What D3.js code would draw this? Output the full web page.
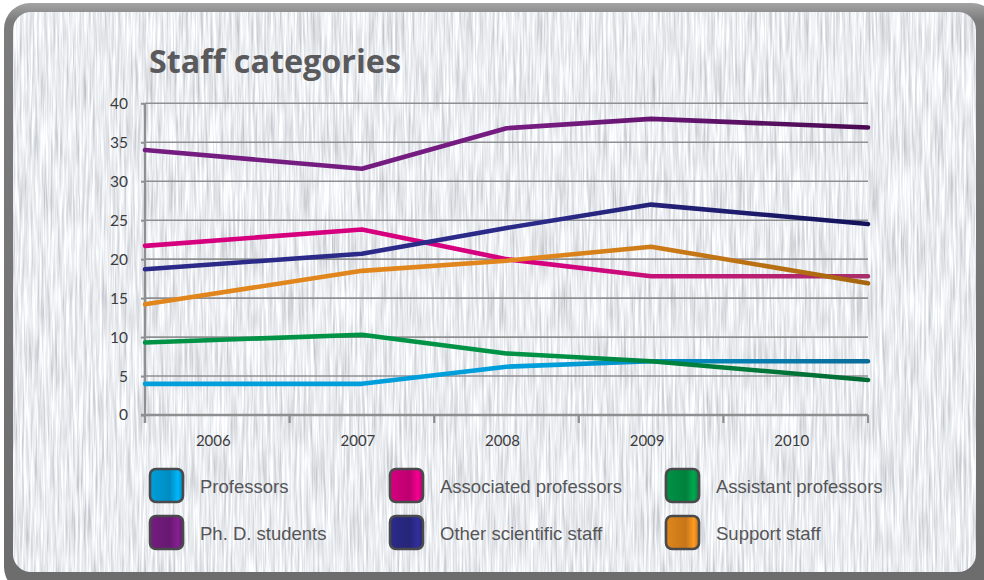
<!DOCTYPE html>
<html>
<head>
<meta charset="utf-8">
<script src="https://cdn.jsdelivr.net/npm/d3@7/dist/d3.min.js"></script>
<style>
  html, body { margin: 0; padding: 0; background: #ffffff; }
  svg { display: block; }
</style>
</head>
<body>
<svg id="chart" width="984" height="580"></svg>
<script>
// Staff numbers per category, 2006–2010
const years = [2006, 2007, 2008, 2009, 2010];
const yTicks = [0, 5, 10, 15, 20, 25, 30, 35, 40];

const professors           = [4.0, 4.0, 6.2, 6.9, 6.9];
const associatedProfessors = [21.7, 23.8, 20.0, 17.8, 17.8];
const assistantProfessors  = [9.3, 10.3, 7.9, 6.9, 4.5];
const phdStudents          = [34.0, 31.6, 36.8, 38.0, 36.9];
const otherScientific      = [18.7, 20.7, 24.0, 27.0, 24.5];
const supportStaff         = [14.2, 18.5, 19.8, 21.6, 16.9];

const seriesNames = ["Professors", "Associated professors", "Assistant professors",
                     "Ph. D. students", "Other scientific staff", "Support staff"];
const seriesColors = ["#009fdb", "#d6007f", "#009245", "#751c80", "#2b2a88", "#e0861c"];
const seriesEndColors = ["#0b6c98", "#a8306a", "#006a33", "#4a0a52", "#14125a", "#a6650e"];

const series = [professors, associatedProfessors, assistantProfessors,
                phdStudents, otherScientific, supportStaff].map((values, i) => ({
  name: seriesNames[i], color: seriesColors[i], endColor: seriesEndColors[i], values
}));

const svg = d3.select("#chart");
const W = 984, H = 580;
const defs = svg.append("defs");

// Brushed-metal panel texture: stretched noise gives fine vertical streaks
const tex = defs.append("filter").attr("id", "brushed")
  .attr("x", 0).attr("y", 0).attr("width", "100%").attr("height", "100%");
tex.append("feTurbulence").attr("type", "fractalNoise")
  .attr("baseFrequency", "0.45 0.018").attr("numOctaves", 3).attr("seed", 7).attr("result", "n");
tex.append("feColorMatrix").attr("in", "n").attr("type", "matrix")
  .attr("values", "0.78 0 0 0 0.43  0.78 0 0 0 0.45  0.78 0 0 0 0.48  0 0 0 0 1");

// Frame
const frameGrad = defs.append("linearGradient").attr("id", "frameGrad")
  .attr("x1", 0).attr("y1", 0).attr("x2", 0).attr("y2", 1);
frameGrad.append("stop").attr("offset", 0).attr("stop-color", "#a4a4a4");
frameGrad.append("stop").attr("offset", 0.03).attr("stop-color", "#7c7c7c");
frameGrad.append("stop").attr("offset", 1).attr("stop-color", "#6c6c6c");

svg.append("rect").attr("x", 4).attr("y", 3).attr("width", W + 10).attr("height", H + 10)
  .attr("rx", 26).attr("fill", "url(#frameGrad)");
const clip = defs.append("clipPath").attr("id", "panelClip");
clip.append("rect").attr("x", 13).attr("y", 12).attr("width", 963).attr("height", 560).attr("rx", 18);
svg.append("rect").attr("x", 13).attr("y", 12).attr("width", 963).attr("height", 560)
  .attr("clip-path", "url(#panelClip)").attr("filter", "url(#brushed)").attr("fill", "#ddd");

// Title
svg.append("text").attr("x", 149).attr("y", 73)
  .attr("font-family", "'Open Sans', 'DejaVu Sans', sans-serif")
  .attr("font-weight", 700).attr("font-size", 32)
  .attr("textLength", 252).attr("lengthAdjust", "spacingAndGlyphs")
  .attr("fill", "#5a5a5c").text("Staff categories");

// Scales
const plotLeft = 145, plotRight = 868, plotTop = 103.3, plotBottom = 415;
const y = d3.scaleLinear().domain([0, 40]).range([plotBottom, plotTop]);
const band = d3.scaleBand().domain(years).range([plotLeft, plotRight]);
// First and last years sit on the plot edges, the others on their band centres
const x = d3.scaleLinear()
  .domain(years)
  .range(years.map((yr, i) => i === 0 ? plotLeft : i === years.length - 1 ? plotRight
                              : band(yr) + band.bandwidth() / 2));

const gridColor = "#8e8f91";
const labelFont = "Lato, 'Open Sans', sans-serif";

// Horizontal gridlines
svg.append("g").selectAll("line").data(yTicks.filter(t => t > 0)).join("line")
  .attr("x1", plotLeft).attr("x2", plotRight).attr("y1", d => y(d)).attr("y2", d => y(d))
  .attr("stroke", gridColor).attr("stroke-width", 1.6);

// Y axis
const yAxis = svg.append("g").attr("transform", `translate(${plotLeft},0)`)
  .call(d3.axisLeft(y).tickValues(yTicks).tickSize(4).tickPadding(13));
yAxis.select(".domain").attr("stroke", gridColor).attr("stroke-width", 2.4)
  .attr("d", `M0,${plotTop}V${plotBottom + 8}`);
yAxis.selectAll(".tick line").attr("stroke", gridColor).attr("stroke-width", 2);
yAxis.selectAll(".tick text").attr("font-family", labelFont).attr("font-weight", 400)
  .attr("font-size", 15.5).attr("fill", "#3c3c3e");

// X axis: ticks on band edges, labels in bands
const xAxisG = svg.append("g").attr("transform", `translate(0,${plotBottom})`);
xAxisG.append("line").attr("x1", plotLeft - 4).attr("x2", plotRight).attr("y1", 0).attr("y2", 0)
  .attr("stroke", gridColor).attr("stroke-width", 2.6);
const edges = years.map(yr => band(yr)).concat([band(years[years.length - 1]) + band.bandwidth()]);
xAxisG.selectAll("line.tk").data(edges).join("line").attr("class", "tk")
  .attr("x1", d => d).attr("x2", d => d).attr("y1", 0).attr("y2", 8)
  .attr("stroke", gridColor).attr("stroke-width", 2.2);
xAxisG.selectAll("text").data(years).join("text")
  .attr("x", d => band(d) + band.bandwidth() / 2 - 4).attr("y", 31)
  .attr("text-anchor", "middle")
  .attr("font-family", labelFont).attr("font-weight", 400).attr("font-size", 15)
  .attr("fill", "#3c3c3e").text(d => d);

// Line gradients (colour deepens towards 2010)
series.forEach((s, i) => {
  const g = defs.append("linearGradient").attr("id", "lg" + i)
    .attr("gradientUnits", "userSpaceOnUse")
    .attr("x1", plotLeft).attr("x2", plotRight).attr("y1", 0).attr("y2", 0);
  g.append("stop").attr("offset", 0).attr("stop-color", s.color);
  g.append("stop").attr("offset", 0.55).attr("stop-color", s.color);
  g.append("stop").attr("offset", 1).attr("stop-color", s.endColor);
});

const line = d3.line().x((d, i) => x(years[i])).y(d => y(d));
svg.append("g").selectAll("path").data(series).join("path")
  .attr("d", d => line(d.values))
  .attr("fill", "none")
  .attr("stroke", (d, i) => `url(#lg${i})`)
  .attr("stroke-width", 4.6)
  .attr("stroke-linecap", "round").attr("stroke-linejoin", "round");

// Legend
series.forEach((s, i) => {
  const g = defs.append("linearGradient").attr("id", "sw" + i)
    .attr("x1", 0).attr("x2", 1).attr("y1", 0).attr("y2", 0);
  const c = d3.color(s.color);
  g.append("stop").attr("offset", 0).attr("stop-color", c.formatHex());
  g.append("stop").attr("offset", 0.6).attr("stop-color", c.darker(0.35).formatHex());
  g.append("stop").attr("offset", 0.85).attr("stop-color", c.brighter(0.4).formatHex());
  g.append("stop").attr("offset", 1).attr("stop-color", c.darker(0.5).formatHex());
});
const legendCols = [150, 390, 666];
const legendRows = [469, 516];
const legend = svg.append("g").selectAll("g").data(series).join("g")
  .attr("transform", (d, i) => `translate(${legendCols[i % 3]},${legendRows[Math.floor(i / 3)]})`);
legend.append("rect").attr("width", 33).attr("height", 33).attr("rx", 6)
  .attr("fill", (d, i) => `url(#sw${i})`)
  .attr("stroke", "#4a4a4c").attr("stroke-width", 2.6);
legend.append("text").attr("x", 50).attr("y", 24)
  .attr("font-family", "'Liberation Sans', Arial, sans-serif").attr("font-size", 18.5)
  .attr("fill", "#555557").text(d => d.name);
</script>
</body>
</html>
